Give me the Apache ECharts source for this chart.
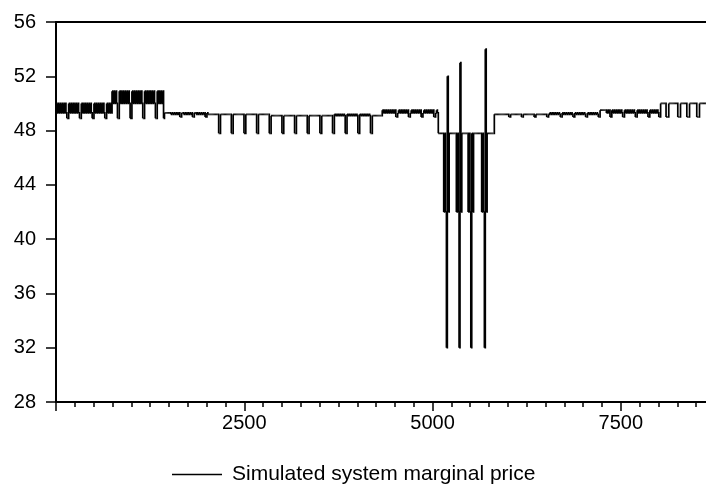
<!DOCTYPE html>
<html>
<head>
<meta charset="utf-8">
<script src="https://cdn.jsdelivr.net/npm/echarts@6/dist/echarts.min.js"></script>
<style>
html,body{margin:0;padding:0;background:#fff;}
#chart{width:706px;height:487px;}
</style>
</head>
<body>
<div id="chart"></div>
<script>
// Price level codes
const LEVELS = {
  A: 50.9, B: 50.0, C: 49.5, D: 49.3, E: 49.2, F: 49.1, G: 49.0, H: 48.9,
  I: 47.8, J: 42.0, K: 32.0, L: 52.0, M: 53.0, N: 54.0
};
// Hours covered by one code character (half a day)
const STEP_HOURS = 12;
// One string per week, 14 half-day codes each
const WEEKS = [
  "BDBDBDBDBDBDHH", "BDBDBDBDBDBDHH", "BDBDBDBDBDBDHH", "BDBDBDBDBDBDHH",
  "BDBDBDABABABHH", "ABABABABABABHH", "ABABABABABABHH", "ABABABABABABHH",
  "ABABABAHDDDDDD", "DEDEDEDEDEDGGD", "DEDEDEDEDEDGGD", "DEDEDEDEDEDGGD",
  "EEEEEEEEEEEEII", "EEEEEEEEEEEEII", "EEEEEEEEEEEEII", "EEEEEEEEEEEEII",
  "EEEEEEEEEEEEII", "FFFFFFFFFFFFII", "FFFFFFFFFFFFII", "FFFFFFFFFFFFII",
  "FFFFFFFFFFFFII", "FFFFFFFFFFFFII", "EFEFEFEFEFEFII", "EFEFEFEFEFEFII",
  "EFEFEFEFEFEFII", "FFFFFFFFFFFCDC", "DCDCDCDCDCDCGG", "DCDCDCDCDCDCGG",
  "DCDCDCDCDCDCGG", "DCDCDCDCDCDCGG", "DCDIIIIIIJIJKL", "JIIIIIIIIJIJKM",
  "JIIIIIIIJIJKIJ", "IIIIIIIIIJIJKN", "JIIIIIIIIEEEEE", "EEEEEEEEEEEGGE",
  "EEEEEEEEEEEGGE", "EEEEEEEEEEEGGE", "EEEEEEEEEEEGGE", "DEDEDEDEDEDEGG",
  "DEDEDEDEDEDEGG", "DEDEDEDEDEDEGG", "DEDEDEDEDEDEGG", "CCCCCCCDCDCGGC",
  "DCDCDCDCDCDGGC", "DCDCDCDCDCDGGC", "DCDCDCDCDCDGGC", "DCDCDCDCDGGBBB",
  "BBBGGGBBBBBBBB", "BBGGGBBBBBBBGG", "GBBBBBBBBGGGBB", "BBBBBBBBBBBBBB"
];
const SERIES_NAME = "Simulated system marginal price";
const Y_TICKS = [28, 32, 36, 40, 44, 48, 52, 56];
const X_TICKS = [0, 2500, 5000, 7500];
const X_MAX = 8750;

const codes = WEEKS.join("").split("");
// each item: [start hour, price held for the step, price of the next step]
const seriesData = codes.map((c, i) => [i * STEP_HOURS, LEVELS[c], LEVELS[codes[i + 1] || c]]);

const FONT = "'Liberation Sans', Arial, sans-serif";
const chart = echarts.init(document.getElementById('chart'), null, {renderer: 'canvas'});
chart.setOption({
  animation: false,
  backgroundColor: '#fff',
  grid: {left: 56, top: 22, bottom: 85, right: -9, containLabel: false, outerBoundsMode: 'none'},
  legend: {
    data: [SERIES_NAME],
    left: 167, top: 459,
    icon: 'rect',
    itemWidth: 50, itemHeight: 1.5,
    itemStyle: {color: '#000'},
    textStyle: {fontSize: 21, fontFamily: FONT, color: '#000', padding: [0, 0, 0, 5]},
    selectedMode: false
  },
  xAxis: [{
    type: 'value',
    min: X_TICKS[0], max: X_MAX, interval: X_TICKS[1] - X_TICKS[0],
    axisLine: {show: true, onZero: false, lineStyle: {color: '#000', width: 2}},
    axisTick: {show: true, length: 9, lineStyle: {color: '#000', width: 1.5}},
    minorTick: {show: true, splitNumber: 10, length: 5, lineStyle: {color: '#000', width: 1.5}},
    axisLabel: {show: true, margin: 11, fontSize: 20, fontFamily: FONT, color: '#000',
      showMinLabel: false, showMaxLabel: false,
      formatter: v => (X_TICKS.indexOf(v) > 0 ? String(v) : '')},
    splitLine: {show: false}
  }, {
    type: 'value', position: 'top',
    min: X_TICKS[0], max: X_MAX,
    axisLine: {show: true, onZero: false, lineStyle: {color: '#000', width: 2}},
    axisTick: {show: false}, axisLabel: {show: false}, splitLine: {show: false}
  }],
  yAxis: {
    type: 'value',
    min: Y_TICKS[0], max: Y_TICKS[Y_TICKS.length - 1], interval: Y_TICKS[1] - Y_TICKS[0],
    axisLine: {show: true, onZero: false, lineStyle: {color: '#000', width: 2}},
    axisTick: {show: true, length: 10, lineStyle: {color: '#000', width: 1.5}},
    axisLabel: {show: true, margin: 20, fontSize: 20, fontFamily: FONT, color: '#000'},
    splitLine: {show: false}
  },
  series: [{
    name: SERIES_NAME,
    type: 'custom',
    clip: true,
    silent: true,
    xAxisIndex: 0,
    itemStyle: {color: '#000'},
    encode: {x: 0, y: 1},
    renderItem: function (params, api) {
      const x0 = api.value(0), y = api.value(1), yn = api.value(2);
      const p0 = api.coord([x0, y]);
      const p1 = api.coord([x0 + STEP_HOURS, y]);
      const p2 = api.coord([x0 + STEP_HOURS, yn]);
      return {
        type: 'polyline',
        shape: {points: [p0, p1, p2]},
        style: {stroke: '#000', lineWidth: 1.7, fill: null},
        silent: true
      };
    },
    data: seriesData
  }]
});
</script>
</body>
</html>
